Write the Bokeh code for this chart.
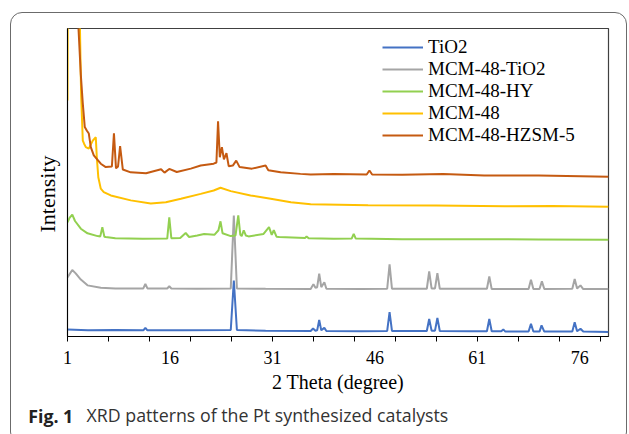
from bokeh.plotting import figure
from bokeh.models import FixedTicker, Label, Range1d, Title
from bokeh.embed import file_html
from bokeh.resources import INLINE

# ---- data (2 theta in degrees, intensity in arbitrary units) ----
TIO2_X = [1, 4, 8, 12.1, 12.4, 12.7, 18, 24.9, 25.35, 25.8, 30, 36.6, 36.95, 37.3, 37.55, 37.85, 38.15,
          38.6, 38.9, 44, 47.8, 48.15, 48.5, 53.6, 53.95, 54.3, 54.8, 55.15, 55.5, 60, 62.4, 62.75, 63.1,
          64.5, 64.8, 65.1, 68.5, 68.85, 69.2, 70.1, 70.4, 70.8, 74.9, 75.25, 75.6, 76.1, 76.5, 80.2]
TIO2_Y = [2.3, 2.0, 2.1, 2.0, 2.8, 2.0, 2.0, 2.1, 18.2, 2.1, 1.9, 1.8, 2.6, 1.9, 2.0, 5.4, 2.0,
          2.8, 1.8, 1.7, 1.8, 7.9, 1.8, 1.8, 5.7, 1.9, 1.9, 6.0, 1.8, 1.7, 1.7, 5.7, 1.7,
          1.7, 2.3, 1.6, 1.6, 4.1, 1.6, 1.6, 3.6, 1.6, 1.6, 4.6, 1.7, 2.5, 1.6, 1.5]

MT_X = [1, 1.7, 2.2, 2.95, 3.93, 5.87, 8, 12.1, 12.4, 12.7, 15.6, 15.9, 16.2, 20, 24.9, 25.35, 25.8,
        30, 36.6, 37.0, 37.3, 37.55, 37.85, 38.15, 38.6, 38.9, 44, 47.8, 48.15, 48.5, 53.6, 53.95,
        54.3, 54.8, 55.15, 55.5, 62.4, 62.75, 63.1, 68.5, 68.85, 69.2, 70.1, 70.45, 70.8, 74.9,
        75.25, 75.6, 76.1, 76.5, 80.2]
MT_Y = [19.2, 21.6, 20.5, 18.5, 16.6, 15.8, 15.6, 15.6, 17.1, 15.6, 15.6, 16.3, 15.6, 15.5, 15.6, 39.3, 15.6,
        15.5, 15.4, 17.0, 15.8, 16.0, 20.4, 16.0, 17.6, 15.5, 15.4, 15.5, 23.4, 15.5, 15.5, 21.1,
        15.6, 15.6, 20.6, 15.5, 15.5, 19.5, 15.4, 15.4, 18.4, 15.4, 15.4, 17.9, 15.4, 15.5,
        18.7, 15.6, 16.6, 15.4, 15.4]

HY_X = [1, 1.3, 1.7, 2.1, 2.95, 3.93, 5.4, 5.8, 6.1, 6.4, 6.6, 8, 12, 15.6, 15.9, 16.2, 17.5, 18.3,
        18.8, 20, 21, 22.5, 23.1, 23.4, 23.7, 24.9, 25.6, 26.0, 26.3, 26.5, 26.8, 27.1, 27.5, 29.7,
        30.5, 30.9, 31.2, 31.6, 32, 35.8, 36.0, 36.3, 40, 42.6, 42.9, 43.2, 50, 60, 70, 80.2]
HY_Y = [37.1, 38.5, 39.6, 37.5, 35.0, 33.5, 32.6, 32.5, 35.5, 32.4, 32.3, 31.9, 31.7, 31.8, 38.7, 31.9, 32.0, 33.6,
        32.3, 32.8, 33.3, 33.0, 34.5, 37.4, 33.5, 32.6, 32.8, 39.3, 33.0, 32.6, 34.5, 32.8, 32.5, 33.3,
        35.5, 33.0, 34.5, 32.4, 32.3, 32.0, 32.5, 31.9, 31.7, 31.8, 33.3, 31.8, 31.6, 31.6, 31.5, 31.4]

M48_X = [1, 1.06, 2.6, 2.9, 3.0, 3.24, 3.43, 3.68, 4.12, 4.7, 5.14, 5.29, 5.51, 5.87, 6.31, 7.34,
         10.26, 13.19, 15.4, 17.6, 20.5, 22.4, 23.4, 24.9, 27.8, 30.75, 33.7, 36.6, 45, 55, 65, 72, 80.2]
M48_Y = [76.6, 130, 130, 90, 78, 63.6, 62.6, 61.5, 61.0, 63.6, 64.7, 58.2, 51.7, 48.0, 46.9, 45.8,
         44.2, 43.2, 43.6, 44.7, 46.3, 47.4, 48.3, 47.2, 45.8, 44.7, 43.6, 42.9, 42.6, 42.5, 42.3, 42.4, 42.1]

HZ_X = [1, 2.3, 2.61, 2.95, 3.24, 3.53, 3.82, 4.12, 4.41, 4.85, 5.87, 6.6, 7.5, 7.8, 8.1, 8.4, 8.7,
        9.1, 10.25, 12.5, 14.7, 15.2, 15.9, 17, 19.05, 20.5, 22.4, 22.8, 23.04, 23.3, 23.6, 23.9,
        24.27, 24.6, 25.2, 25.7, 26.2, 28, 30, 30.4, 32.2, 35.1, 36.6, 40, 44.8, 45.2, 45.6, 50,
        56, 62, 70, 80.2]
HZ_Y = [160, 120, 100, 85, 75.6, 68, 66.9, 65.9, 61.5, 58.8, 56.1, 55, 55.2, 66, 54.6, 55.2, 61.8,
        54.2, 53.3, 53.0, 54.3, 53.2, 54.4, 53.4, 54.5, 55.5, 56.1, 56.5, 69.9, 58.2, 61.5, 57.5,
        59.5, 55.3, 55.5, 57.1, 55.0, 54.5, 55.5, 54.0, 53.3, 52.8, 52.6, 52.8, 52.6, 53.9, 52.6, 52.5,
        52.8, 52.3, 52.3, 51.9]

SERIES = ["TiO2", "MCM-48-TiO2", "MCM-48-HY", "MCM-48", "MCM-48-HZSM-5"]
COLORS = ["#4472C4", "#A5A5A5", "#92D050", "#FFC000", "#C55A11"]
TICK_LABELS = [1, 16, 31, 46, 61, 76]
MINOR_TICKS = [1, 7, 13, 19, 25, 31, 37, 43, 49, 55, 61, 67, 73, 79]

SERIF = "Liberation Serif"

FRAME_CSS = (":host { overflow: hidden; } "
             ":host::after { content: ''; position: absolute; left: 10px; top: 12px; "
             "width: 617px; height: 432px; box-sizing: border-box; "
             "border: 1.5px solid #6b6b6b; border-radius: 12px; pointer-events: none; }")

p = figure(width=629, height=434, x_range=Range1d(1, 80.2), y_range=Range1d(0, 100),
           output_backend="svg", toolbar_location=None,
           min_border_left=67, min_border_right=21, min_border_top=28, min_border_bottom=98,
           stylesheets=[FRAME_CSS])
p.title.visible = False
p.grid.visible = False
p.outline_line_color = "#404040"
p.outline_line_width = 1.2
p.background_fill_color = "white"
p.border_fill_color = "white"

data = [(TIO2_X, TIO2_Y), (MT_X, MT_Y), (HY_X, HY_Y), (M48_X, M48_Y), (HZ_X, HZ_Y)]
for (xs, ys), name, col in zip(data, SERIES, COLORS):
    p.line(xs, ys, line_color=col, line_width=2, legend_label=name)

# x axis
xa = p.xaxis[0]
xa.ticker = FixedTicker(ticks=TICK_LABELS, minor_ticks=MINOR_TICKS)
xa.major_tick_out = 0
xa.major_tick_in = 0
xa.minor_tick_out = 5
xa.minor_tick_in = 0
xa.minor_tick_line_color = "black"
xa.axis_line_color = "black"
xa.major_label_text_font = SERIF
xa.major_label_text_font_size = "18px"
xa.major_label_text_color = "black"
xa.major_label_standoff = 9
xa.axis_label = "2 Theta (degree)"
xa.axis_label_text_font = SERIF
xa.axis_label_text_font_size = "20px"
xa.axis_label_text_font_style = "normal"
xa.axis_label_text_color = "black"
xa.axis_label_standoff = 4

# y axis (no ticks; its title sits in the left panel)
ya = p.yaxis[0]
ya.ticker = FixedTicker(ticks=[])
ya.major_tick_out = 0
ya.major_tick_in = 0
ya.minor_tick_out = 0
ya.minor_tick_in = 0
ya.axis_label_standoff = 8
ya.axis_line_color = "black"
p.add_layout(Title(text="Intensity", align="left", offset=104, vertical_align="bottom",
                   standoff=16, text_font=SERIF, text_font_size="22px",
                   text_font_style="normal", text_color="black"), "left")

# legend
lg = p.legend[0]
lg.location = (315, 190)
lg.border_line_color = None
lg.background_fill_alpha = 0
lg.padding = 0
lg.margin = 0
lg.spacing = 0
lg.glyph_width = 41
lg.glyph_height = 22
lg.label_height = 22
lg.label_standoff = 5
lg.label_text_font = SERIF
lg.label_text_font_size = "19px"
lg.label_text_color = "black"

# caption: bold figure number (top side panel) and caption text (bottom side panel)
p.add_layout(Label(x=-39.3, y=-387, x_units="screen", y_units="screen", text="Fig. 1",
                   text_font="Open Sans", text_font_style="bold", text_font_size="17.8px",
                   text_baseline="alphabetic", text_color="#222222"), "above")
p.add_layout(Label(x=19, y=4.5, x_units="screen", y_units="screen",
                   text="XRD patterns of the Pt synthesized catalysts",
                   text_font="Open Sans", text_font_size="17.8px",
                   text_baseline="alphabetic", text_color="#333333"), "below")

open("out.html", "w").write(file_html(p, INLINE))
